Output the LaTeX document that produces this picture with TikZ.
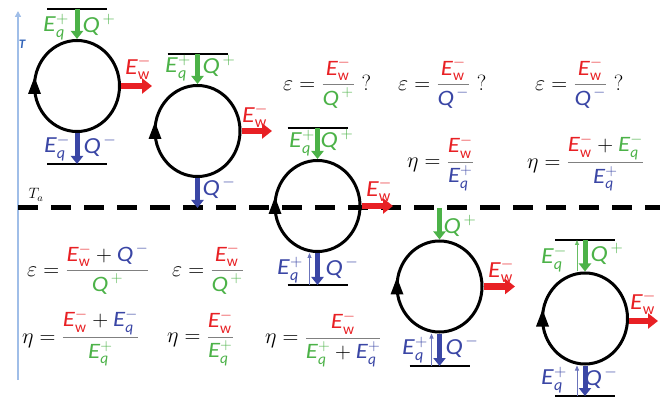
\RequirePackage{fix-cm}
\documentclass[tikz,border=0pt]{standalone}
\usepackage{amsmath}
\usepackage{graphicx}
\usepackage{fontspec}
\newfontfamily\cf{Carlito}
\usetikzlibrary{arrows.meta,shapes.geometric,calc}
\definecolor{cgreen}{RGB}{76,178,72}
\definecolor{cblue}{RGB}{58,70,165}
\definecolor{cred}{RGB}{232,32,36}
\definecolor{axisblue}{RGB}{160,190,232}
\definecolor{tblue}{RGB}{50,100,185}
\newcommand{\Gl}[1]{\text{\scalebox{1.12}[1]{\cf\itshape #1\/}}}
\newcommand{\Ew}{{\color{cred}\Gl{E}^{-}_{\text{\cf w}}}}
\newcommand{\Eqq}[2]{{\color{#1}\Gl{E}^{#2}_{\text{\cf\itshape q}}}}
\newcommand{\Qq}[2]{{\color{#1}\Gl{Q}^{\,#2}}}
\newcommand{\fr}[2]{{\color{gray}\dfrac{#1}{#2}}}
\newcommand{\pl}{\mathbin{\color{black}+}}
\tikzset{
  cyc/.style={ellipse, draw, line width=3pt, minimum width=85, minimum height=91, inner sep=0},
  bar/.style={line width=2pt},
  garrow/.style={draw=cgreen, line width=5pt, -{Triangle[width=12pt,length=8pt]}},
  barrow/.style={draw=cblue, line width=5pt, -{Triangle[width=12pt,length=8pt]}},
  rarrow/.style={draw=cred, line width=6.5pt, -{Triangle[width=15pt,length=10pt]}},
  tbarrow/.style={draw=cblue!75, line width=0.8pt, -{Triangle[width=4pt,length=5pt]}},
  tgarrow/.style={draw=cgreen!85, line width=0.8pt, -{Triangle[width=4pt,length=5pt]}},
  lab/.style={font=\fontsize{23}{27}\selectfont, inner sep=0},
  fml/.style={font=\fontsize{22}{26}\selectfont, inner sep=0, anchor=west},
}
\begin{document}
\begin{tikzpicture}[x=1pt,y=-1pt]
\useasboundingbox (0,0) rectangle (667,398);
% axis
\coordinate (ab) at (18,380);
\coordinate (at) at (18,11);
\draw[axisblue, line width=1.5pt, -{Triangle[width=6pt,length=6pt]}] (ab) -- (at);
\node[font=\fontsize{13}{15}\selectfont\cf\bfseries\itshape, text=tblue, inner sep=0] (tl) at (22,44) {T};
\node[font=\fontsize{15}{17}\selectfont, inner sep=0] (tal) at (36,195) {$T_a$};
% dashed line
\coordinate (dl) at (18,208);
\coordinate (dr) at (660,208);
\draw[line width=5pt, dash pattern=on 20pt off 13pt] (dl) -- (dr);

% cycle 1
\node[cyc] (c1) at (77,86) {};
\coordinate (t1) at (77,9);
\coordinate (b1) at (77,164);
\coordinate (r1) at (152,86);
\draw[bar] (t1) ++(-30,0) -- ++(60,0);
\draw[bar] (b1) ++(-30,0) -- ++(60,0);
\draw[garrow] (t1) -- (c1.north);
\draw[barrow] (c1.south) -- (b1);
\draw[rarrow] (c1.east) -- (r1);
\fill ($(c1.west)+(1.5,0)$) ++(0,-9) -- ++(-6.5,17) -- ++(13,0) -- cycle;
\node[lab] (l1a) at (56,27) {$\Eqq{cgreen}{+}$};
\node[lab] (l1b) at (99,25) {$\Qq{cgreen}{+}$};
\node[lab] (l1c) at (57,148) {$\Eqq{cblue}{-}$};
\node[lab] (l1d) at (100,146) {$\Qq{cblue}{-}$};
\node[lab] (l1e) at (138,68) {$\Ew$};

% cycle 2
\node[cyc] (c2) at (197.5,131) {};
\coordinate (t2) at (197.5,54);
\coordinate (d2) at (197.5,208);
\coordinate (r2) at (272,131);
\draw[bar] (t2) ++(-30,0) -- ++(60,0);
\draw[garrow] (t2) -- (c2.north);
\draw[barrow] (c2.south) -- (d2);
\draw[rarrow] (c2.east) -- (r2);
\fill ($(c2.west)+(1.5,0)$) ++(0,-9) -- ++(-6.5,17) -- ++(13,0) -- cycle;
\node[lab] (l2a) at (178,68) {$\Eqq{cgreen}{+}$};
\node[lab] (l2b) at (219,66) {$\Qq{cgreen}{+}$};
\node[lab] (l2d) at (219,188) {$\Qq{cblue}{-}$};
\node[lab] (l2e) at (255,116) {$\Ew$};

% cycle 3
\node[cyc] (c3) at (317.5,206) {};
\coordinate (t3) at (317.5,128);
\coordinate (b3) at (317.5,285);
\coordinate (r3) at (393,206);
\draw[bar] (t3) ++(-30,0) -- ++(60,0);
\draw[bar] (b3) ++(-30,0) -- ++(60,0);
\draw[garrow] (t3) -- (c3.north);
\draw[barrow] (c3.south) -- (b3);
\draw[tbarrow] ($(b3)+(-8,0)$) -- ($(c3.south)+(-8,0)$);
\draw[rarrow] (c3.east) -- (r3);
\fill ($(c3.west)+(1.5,0)$) ++(0,-9) -- ++(-6.5,17) -- ++(13,0) -- cycle;
\node[lab] (l3a) at (302,143) {$\Eqq{cgreen}{+}$};
\node[lab] (l3b) at (337,140) {$\Qq{cgreen}{+}$};
\node[lab] (l3c) at (290,270) {$\Eqq{cblue}{+}$};
\node[lab] (l3d) at (342,268) {$\Qq{cblue}{-}$};
\node[lab] (l3e) at (379,190) {$\Ew$};

% cycle 4
\node[cyc] (c4) at (439.5,286.5) {};
\coordinate (d4) at (439.5,208);
\coordinate (b4) at (439.5,366);
\coordinate (r4) at (515,286.5);
\draw[bar] (b4) ++(-30,0) -- ++(60,0);
\draw[garrow] (d4) -- (c4.north);
\draw[barrow] (c4.south) -- (b4);
\draw[tbarrow] ($(b4)+(-8,0)$) -- ($(c4.south)+(-8,0)$);
\draw[rarrow] (c4.east) -- (r4);
\fill ($(c4.west)+(1.5,0)$) ++(0,-9) -- ++(-6.5,17) -- ++(13,0) -- cycle;
\node[lab] (l4b) at (460,226) {$\Qq{cgreen}{+}$};
\node[lab] (l4c) at (415,350) {$\Eqq{cblue}{+}$};
\node[lab] (l4d) at (462,347) {$\Qq{cblue}{-}$};
\node[lab] (l4e) at (501,271) {$\Ew$};

% cycle 5
\node[cyc] (c5) at (585,318.5) {};
\coordinate (t5) at (585,240);
\coordinate (b5) at (585,396);
\coordinate (r5) at (658,321);
\draw[bar] (t5) ++(-30,0) -- ++(60,0);
\draw[bar] (b5) ++(-30,0) -- ++(60,0);
\draw[garrow] (t5) -- (c5.north);
\draw[tgarrow] ($(c5.north)+(-8,0)$) -- ($(t5)+(-8,0)$);
\draw[barrow] (c5.south) -- (b5);
\draw[tbarrow] ($(b5)+(-8,0)$) -- ($(c5.south)+(-8,0)$);
\draw[rarrow] ($(c5.east)+(0,2.5)$) -- (r5);
\fill ($(c5.west)+(1.5,0)$) ++(0,-9) -- ++(-6.5,17) -- ++(13,0) -- cycle;
\node[lab] (l5a) at (554,259) {$\Eqq{cgreen}{-}$};
\node[lab] (l5b) at (607,254) {$\Qq{cgreen}{+}$};
\node[lab] (l5c) at (554,380) {$\Eqq{cblue}{+}$};
\node[lab] (l5d) at (601,378) {$\Qq{cblue}{-}$};
\node[lab] (l5e) at (643,303) {$\Ew$};

% formulas
\node[fml] (f1) at (283,83) {$\varepsilon = \fr{\Ew}{\Qq{cgreen}{+}}\ \text{?}$};
\node[fml] (f2) at (398,83) {$\varepsilon = \fr{\Ew}{\Qq{cblue}{-}}\ \text{?}$};
\node[fml] (f3) at (535,83) {$\varepsilon = \fr{\Ew}{\Qq{cblue}{-}}\ \text{?}$};
\node[fml] (f4) at (407,163) {$\eta = \fr{\Ew}{\Eqq{cblue}{+}}$};
\node[fml] (f5) at (527,163) {$\eta = \fr{\Ew \pl \Eqq{cgreen}{-}}{\Eqq{cblue}{+}}$};
\node[fml] (f6) at (27,269) {$\varepsilon = \fr{\Ew \pl \Qq{cblue}{-}}{\Qq{cgreen}{+}}$};
\node[fml] (f7) at (172,269) {$\varepsilon = \fr{\Ew}{\Qq{cgreen}{+}}$};
\node[fml] (f8) at (22,338) {$\eta = \fr{\Ew \pl \Eqq{cblue}{-}}{\Eqq{cgreen}{+}}$};
\node[fml] (f9) at (167,338) {$\eta = \fr{\Ew}{\Eqq{cgreen}{+}}$};
\node[fml] (f10) at (265,339) {$\eta = \fr{\Ew}{\Eqq{cgreen}{+} \pl \Eqq{cblue}{+}}$};
\end{tikzpicture}
\end{document}
